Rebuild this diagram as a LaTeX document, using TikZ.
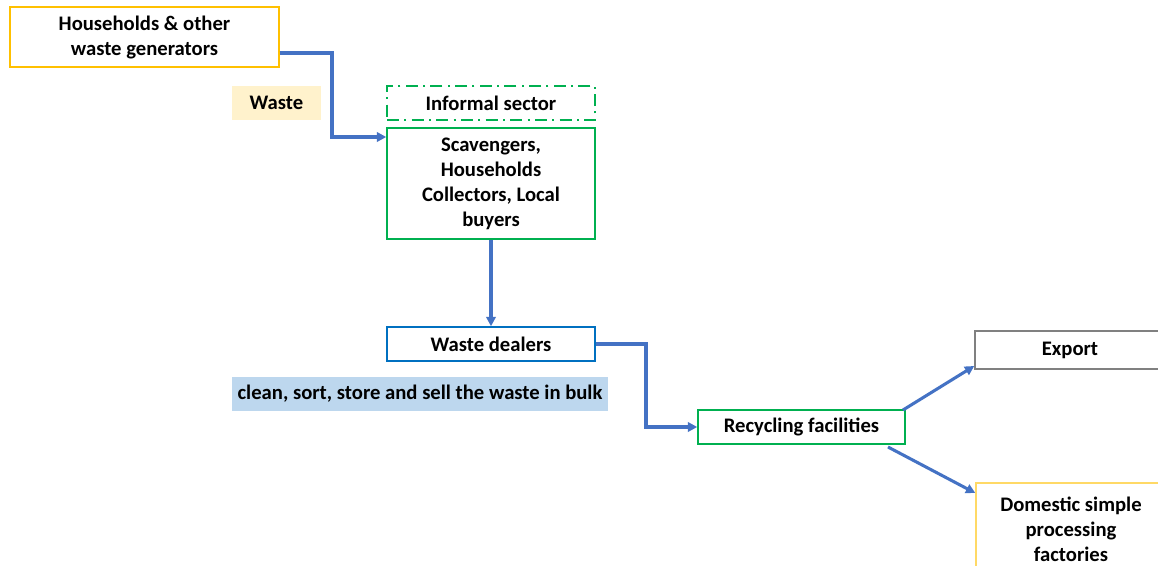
\documentclass[tikz,border=0pt]{standalone}
\usepackage{fontspec}
\setmainfont{Carlito}
\usetikzlibrary{arrows.meta}
\definecolor{flowblue}{HTML}{4472C4}
\definecolor{boxgreen}{HTML}{00B050}
\definecolor{boxgold}{HTML}{FFC000}
\definecolor{boxpale}{HTML}{FFD966}
\definecolor{boxblue}{HTML}{0070C0}
\definecolor{notecream}{HTML}{FFF2CC}
\definecolor{noteblue}{HTML}{BDD7EE}
\begin{document}
\begin{tikzpicture}[x=0.75pt, y=-0.75pt,
    every node/.style={font=\fontsize{15.5}{18.75}\selectfont\bfseries, align=center, inner sep=0pt},
    stagebox/.style={draw, line width=1.1pt, rectangle},
    notebox/.style={rectangle},
    flow/.style={flowblue, line width=2.3pt, -{Triangle[length=7pt, width=7pt]}}]
    \clip (0,0) rectangle (1158,565);
    \fill[white] (0,0) rectangle (1158,565);
    \node[stagebox, draw=boxgold, minimum width=269*0.75pt, minimum height=60*0.75pt] (gen) at (144.5,37) {Households \& other\\waste generators};
    \node[notebox, fill=notecream, minimum width=89*0.75pt, minimum height=34*0.75pt] (wastelbl) at (276.5,103) {Waste};
    \node[stagebox, draw=boxgreen, line width=1.8pt, dash pattern=on 9pt off 4pt on 1.5pt off 4pt, minimum width=208*0.75pt, minimum height=34*0.75pt] (informal) at (491,103) {Informal sector};
    \node[stagebox, draw=boxgreen, minimum width=208*0.75pt, minimum height=111*0.75pt] (scav) at (491,183.5) {Scavengers,\\Households\\Collectors, Local\\buyers};
    \node[stagebox, draw=boxblue, minimum width=208*0.75pt, minimum height=34*0.75pt] (dealers) at (491,344) {Waste dealers};
    \node[notebox, fill=noteblue, minimum width=376*0.75pt, minimum height=34*0.75pt] (cleanlbl) at (420,394) {clean, sort, store and sell the waste in bulk};
    \node[stagebox, draw=boxgreen, minimum width=207*0.75pt, minimum height=34*0.75pt] (recyc) at (801.5,427) {Recycling facilities};
    \node[stagebox, draw=gray, minimum width=190*0.75pt, minimum height=38*0.75pt] (export) at (1070,350) {Export};
    \node[stagebox, draw=boxpale, minimum width=190*0.75pt, minimum height=92*0.75pt] (domestic) at (1071,529) {Domestic simple\\processing\\factories};
    % flows
    \draw[flow] (gen.east |- 0,53) -| (332,137) -- (scav.west |- 0,137);
    \draw[flow] (scav.south) -- (dealers.north);
    \draw[flow] (dealers.east) -| (646,427) -- (recyc.west);
    \draw[flow] (903,410) -- (export.south west |- 0,366);
    \draw[flow] (888,447) -- (domestic.north west |- 0,493);
\end{tikzpicture}
\end{document}
